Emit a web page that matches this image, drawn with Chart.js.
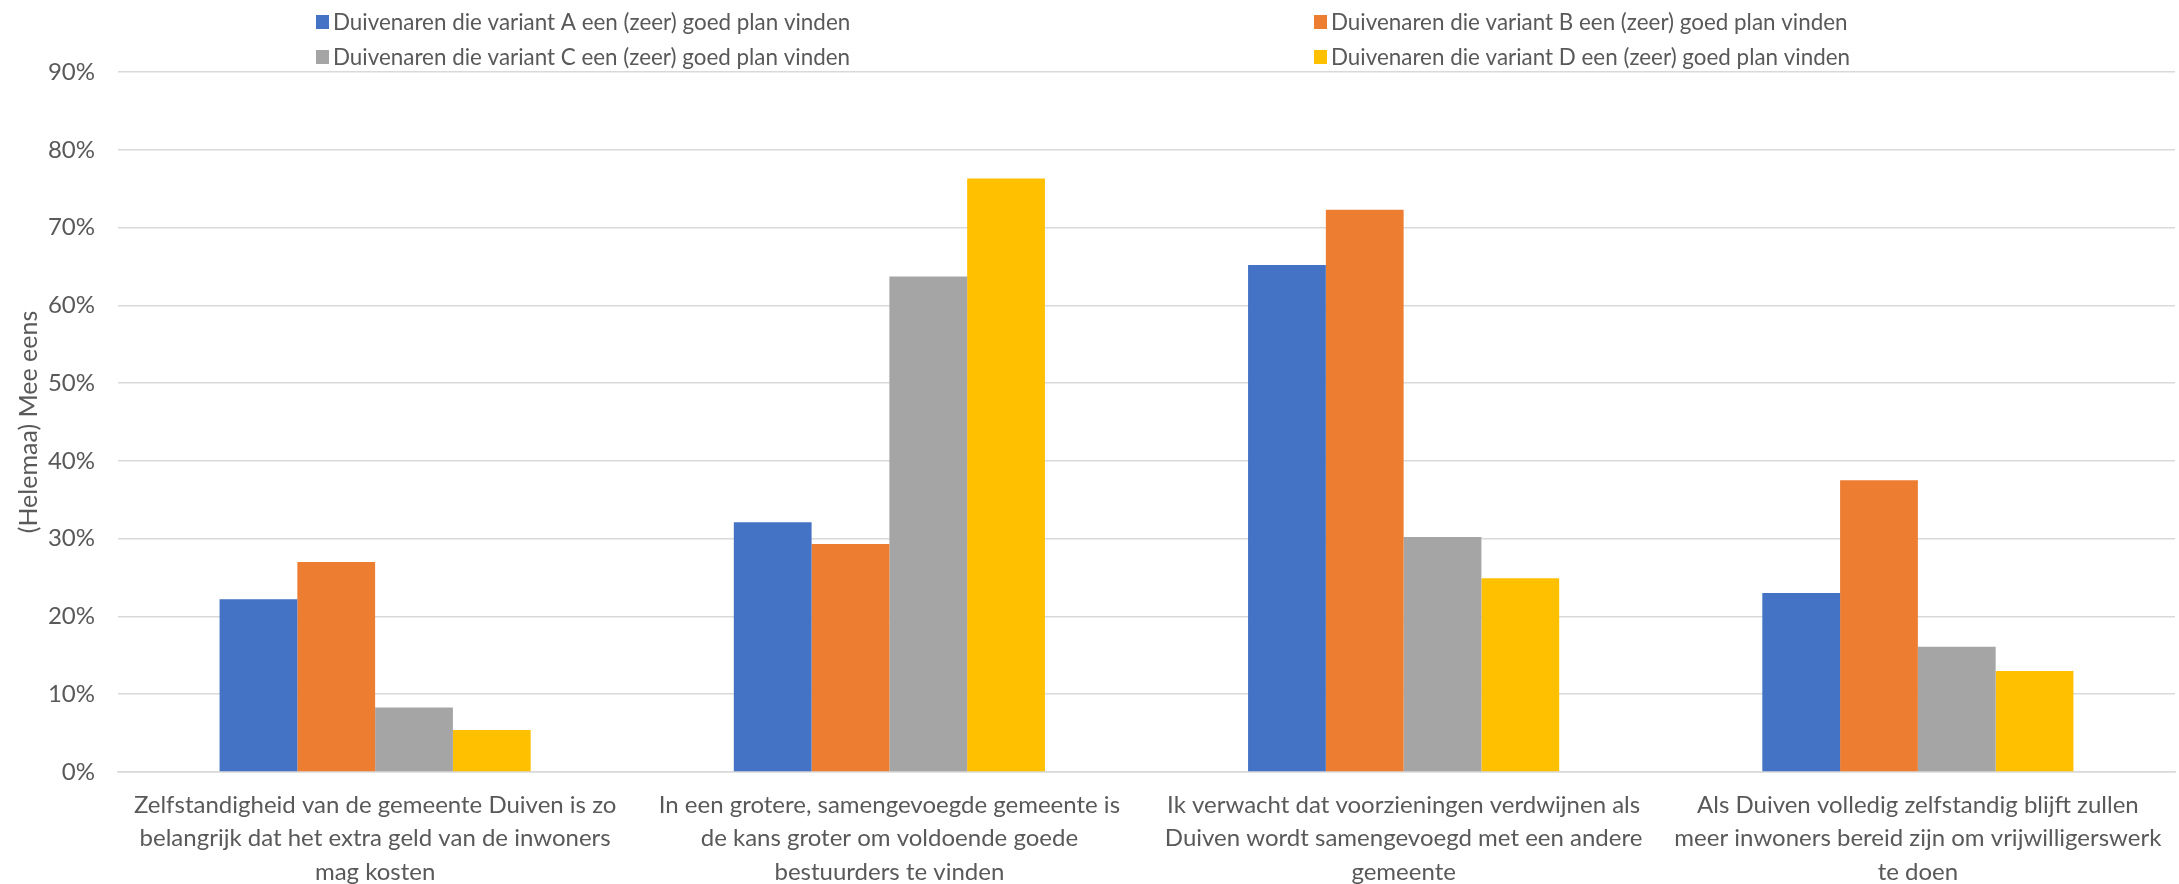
<!DOCTYPE html>
<html>
<head>
<meta charset="utf-8">
<script src="https://cdn.jsdelivr.net/npm/chart.js@4"></script>
<style>
  html, body { margin: 0; padding: 0; background: #fff; }
</style>
</head>
<body>
<canvas id="chart" width="2179" height="884"></canvas>
<script>
// Data (percent)
const categories = [
  ["Zelfstandigheid van de gemeente Duiven is zo", "belangrijk dat het extra geld van de inwoners", "mag kosten"],
  ["In een grotere, samengevoegde gemeente is", "de kans groter om voldoende goede", "bestuurders te vinden"],
  ["Ik verwacht dat voorzieningen verdwijnen als", "Duiven wordt samengevoegd met een andere", "gemeente"],
  ["Als Duiven volledig zelfstandig blijft zullen", "meer inwoners bereid zijn om vrijwilligerswerk", "te doen"]
];
const seriesNames = [
  "Duivenaren die variant A een (zeer) goed plan vinden",
  "Duivenaren die variant B een (zeer) goed plan vinden",
  "Duivenaren die variant C een (zeer) goed plan vinden",
  "Duivenaren die variant D een (zeer) goed plan vinden"
];
const variantA = [22.2, 32.1, 65.2, 23.0];
const variantB = [27.0, 29.3, 72.3, 37.5];
const variantC = [8.3, 63.7, 30.2, 16.1];
const variantD = [5.4, 76.3, 24.9, 13.0];
const yMin = 0;
const yMax = 90;
const yStep = 10;
const yTitle = "(Helemaa) Mee eens";

const colors = ['#4472C4', '#ED7D31', '#A5A5A5', '#FFC000'];
const textColor = '#595959';
const gridColor = '#D9D9D9';

// legend in two rows of two, like the Excel original
const splitLegend = {
  id: 'splitLegend',
  afterDraw(chart) {
    const ctx = chart.ctx;
    ctx.save();
    ctx.font = '22.4px Lato';
    ctx.textBaseline = 'middle';
    chart.data.datasets.forEach((ds, i) => {
      const x = i % 2 === 0 ? 316 : 1314;
      const y = i < 2 ? 22 : 57;
      ctx.fillStyle = ds.backgroundColor;
      ctx.fillRect(x, y - 7, 13, 14);
      ctx.fillStyle = textColor;
      ctx.fillText(ds.label, x + 17, y + 1);
    });
    ctx.restore();
  }
};

const seriesData = [variantA, variantB, variantC, variantD];

new Chart(document.getElementById('chart'), {
  type: 'bar',
  data: {
    labels: categories,
    datasets: seriesData.map((d, i) => ({
      label: seriesNames[i],
      data: d,
      backgroundColor: colors[i],
      borderWidth: 0,
      categoryPercentage: 0.605,
      barPercentage: 1.0
    }))
  },
  options: {
    responsive: false,
    animation: false,
    devicePixelRatio: 1,
    layout: { padding: { top: 72, right: 4, bottom: 0, left: 0 } },
    plugins: {
      legend: { display: false },
      tooltip: { enabled: false }
    },
    scales: {
      x: {
        afterFit(scale) { scale.height = 112; },
        grid: { display: false, drawTicks: false },
        border: { color: gridColor, width: 1.5 },
        ticks: {
          color: textColor,
          font: { family: 'Lato', size: 24, lineHeight: 1.38 },
          padding: 17,
          autoSkip: false,
          maxRotation: 0,
          minRotation: 0
        }
      },
      y: {
        min: yMin,
        max: yMax,
        afterFit(scale) { scale.width = 118; },
        grid: { color: gridColor, lineWidth: 1.5, drawTicks: false },
        border: { display: false },
        ticks: {
          stepSize: yStep,
          color: textColor,
          font: { family: 'Lato', size: 24 },
          padding: 23,
          callback: v => v + '%'
        },
        title: {
          display: true,
          text: yTitle,
          color: textColor,
          font: { family: 'Lato', size: 25 },
          padding: { top: 14, bottom: 0 }
        }
      }
    }
  },
  plugins: [splitLegend]
});
</script>
</body>
</html>
